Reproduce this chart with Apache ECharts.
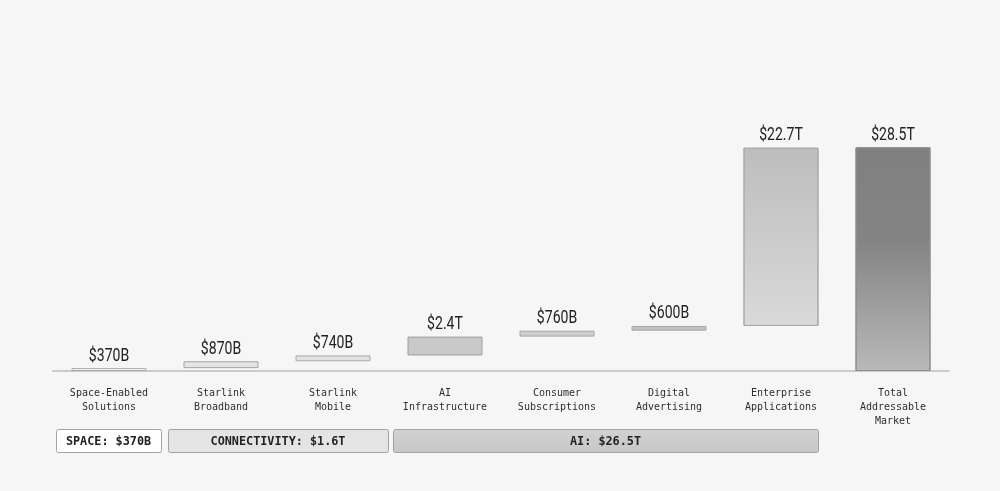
<!DOCTYPE html>
<html>
<head>
<meta charset="utf-8">
<script src="https://cdn.jsdelivr.net/npm/echarts@6/dist/echarts.min.js"></script>
<style>
html,body{margin:0;padding:0;background:#f6f6f6;}
#chart{width:1000px;height:491px;}
</style>
</head>
<body>
<div id="chart"></div>
<script>
// ---- data ----
const categories = [
  "Space-Enabled\nSolutions",
  "Starlink\nBroadband",
  "Starlink\nMobile",
  "AI\nInfrastructure",
  "Consumer\nSubscriptions",
  "Digital\nAdvertising",
  "Enterprise\nApplications",
  "Total\nAddressable\nMarket"
];
// values in $ trillions
const values = [0.37, 0.87, 0.74, 2.4, 0.76, 0.6, 22.7, 28.5];
const valueLabels = ["$370B", "$870B", "$740B", "$2.4T", "$760B", "$600B", "$22.7T", "$28.5T"];
const isTotal = [false, false, false, false, false, false, false, true];
// group boxes: label, first category index, last category index
const groupLabels = ["SPACE: $370B", "CONNECTIVITY: $1.6T", "AI: $26.5T"];
const groupStart = [0, 1, 3];
const groupEnd = [0, 2, 6];

// ---- styles ----
const G = echarts.graphic.LinearGradient;
const barFills = [
  '#fbfbfb', '#e4e4e4', '#e2e2e2', '#c9c9c9', '#cdcdcd', '#c2c2c2',
  new G(0, 0, 0, 1, [{offset: 0, color: '#bdbdbd'}, {offset: 1, color: '#d9d9d9'}]),
  new G(0, 0, 0, 1, [{offset: 0, color: '#808080'}, {offset: 0.42, color: '#848484'}, {offset: 1, color: '#b9b9b9'}])
];
const barBorders = ['#a9a9a9', '#a6a6a6', '#a8a8a8', '#9e9e9e', '#a4a4a4', '#a6a6a6', '#a9a9a9', '#8c8c8c'];
const groupFills = ['#ffffff', '#e4e4e4',
  new G(0, 0, 0, 1, [{offset: 0, color: '#d2d2d2'}, {offset: 1, color: '#c6c6c6'}])];
const groupLeftPad = [53, 53, 52];
const groupRightPad = [52, 55, 37];

// ---- waterfall bases (computed) ----
const bases = [];
let running = 0;
values.forEach((v, i) => {
  if (isTotal[i]) { bases.push(0); }
  else { bases.push(running); running += v; }
});
const tops = values.map((v, i) => [i, bases[i] + v]);

const chart = echarts.init(document.getElementById('chart'), null, {renderer: 'canvas'});
const option = {
  backgroundColor: '#f6f6f6',
  animation: false,
  grid: {left: 53, right: 51, top: 57, bottom: 120},
  xAxis: {
    type: 'category',
    data: categories,
    axisTick: {show: false},
    axisLine: {lineStyle: {color: '#cbcbcb', width: 2}},
    axisLabel: {
      interval: 0,
      margin: 15,
      fontFamily: 'DejaVu Sans Mono',
      fontSize: 10,
      lineHeight: 14,
      color: '#2e2e2e'
    }
  },
  yAxis: {type: 'value', min: 0, max: 40, show: false},
  series: [
    {
      type: 'bar',
      stack: 'wf',
      barWidth: 75,
      silent: true,
      itemStyle: {color: 'transparent'},
      data: bases
    },
    {
      type: 'bar',
      stack: 'wf',
      barWidth: 75,
      data: values.map((v, i) => ({
        value: v,
        itemStyle: {color: barFills[i], borderColor: barBorders[i], borderWidth: 1}
      }))
    },
    {
      type: 'custom',
      silent: true,
      data: tops,
      renderItem: function (params, api) {
        const p = api.coord([api.value(0), api.value(1)]);
        return {
          type: 'text',
          x: p[0],
          y: p[1] - 3,
          scaleX: 0.78,
          style: {
            text: valueLabels[params.dataIndex],
            align: 'center',
            verticalAlign: 'bottom',
            fontFamily: 'Roboto',
            fontSize: 18,
            fill: '#222'
          }
        };
      }
    }
  ]
};
chart.setOption(option);

// group boxes below the axis, positioned from the category scale
const axisY = chart.convertToPixel({yAxisIndex: 0}, 0);
const graphics = [];
groupLabels.forEach((lab, g) => {
  const x0 = chart.convertToPixel({xAxisIndex: 0}, groupStart[g]) - groupLeftPad[g];
  const x1 = chart.convertToPixel({xAxisIndex: 0}, groupEnd[g]) + groupRightPad[g];
  const y0 = axisY + 58;
  const h = 23;
  graphics.push({
    type: 'rect',
    shape: {x: x0 + 0.5, y: y0 + 0.5, width: x1 - x0, height: h, r: 2},
    style: {fill: groupFills[g], stroke: '#a3a3a3', lineWidth: 1}
  });
  graphics.push({
    type: 'text',
    x: (x0 + x1) / 2,
    y: y0 + h / 2 + 1,
    style: {
      text: lab,
      align: 'center',
      verticalAlign: 'middle',
      fontFamily: 'DejaVu Sans Mono',
      fontWeight: 'bold',
      fontSize: 11.8,
      fill: '#222'
    }
  });
});
chart.setOption({graphic: graphics});
</script>
</body>
</html>
